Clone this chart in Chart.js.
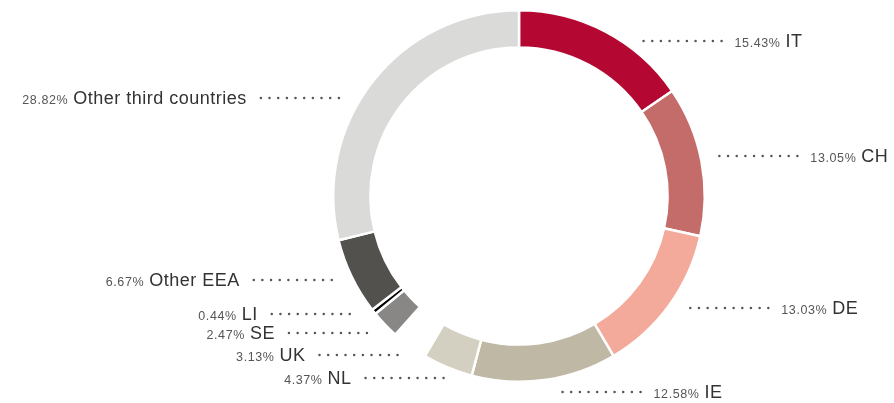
<!DOCTYPE html>
<html>
<head>
<meta charset="utf-8">
<script src="https://cdn.jsdelivr.net/npm/chart.js@4"></script>
<style>
  html, body { margin: 0; padding: 0; background: #fff; }
  #wrap { width: 894px; height: 403px; position: relative; }
</style>
</head>
<body>
<div id="wrap"><canvas id="chart"></canvas></div>
<script>
// Share by country, clockwise from the top
const countries = ['IT', 'CH', 'DE', 'IE', 'NL', 'UK', 'SE', 'LI', 'Other EEA', 'Other third countries'];
const shares = [15.43, 13.05, 13.03, 12.58, 4.37, 3.13, 2.47, 0.44, 6.67, 28.82];
const sliceColors = ['#b40832', '#c46c6a', '#f3aa9b', '#bfb8a4', '#d3cfc1', '#ffffff', '#888786', '#000000', '#53514e', '#dadad9'];

// Leader placement relative to each slice's outer midpoint: [gap, dy]
const leaderNudge = [[38, 9], [18, -5], [21, 3], [18, 12], [4, 11], [12, 9], [18, 8], [24, 2], [20, 3], [34, 17]];

const FONT = '"Liberation Sans", Arial, sans-serif';

const leaderLabels = {
    id: 'leaderLabels',
    afterDraw(chart) {
        const ctx = chart.ctx;
        const arcs = chart.getDatasetMeta(0).data;
        ctx.save();
        arcs.forEach((arc, i) => {
            const mid = (arc.startAngle + arc.endAngle) / 2;
            const px = arc.x + Math.cos(mid) * arc.outerRadius;
            const py = arc.y + Math.sin(mid) * arc.outerRadius;
            const right = px > arc.x;
            const [gap, dy] = leaderNudge[i];
            const y = Math.round(py + dy);
            const dotsLen = 78;
            const x0 = right ? px + gap : px - gap - dotsLen;

            // dotted leader
            ctx.fillStyle = '#555';
            for (let d = 0; d < 10; d++) {
                ctx.beginPath();
                ctx.arc(x0 + d * dotsLen / 9, y, 1.25, 0, Math.PI * 2);
                ctx.fill();
            }

            const pct = shares[i].toFixed(2) + '%';
            ctx.textBaseline = 'alphabetic';
            ctx.textAlign = 'left';
            ctx.font = '12.5px ' + FONT;
            ctx.letterSpacing = '0.6px';
            const pw = ctx.measureText(pct).width + 5;
            ctx.font = '18px ' + FONT;
            ctx.letterSpacing = '0.5px';
            const nw = ctx.measureText(countries[i]).width;
            const tx = right ? x0 + dotsLen + 13 : x0 - 14 - pw - nw;

            ctx.fillStyle = '#555';
            ctx.font = '12.5px ' + FONT;
            ctx.letterSpacing = '0.6px';
            ctx.fillText(pct, tx, y + 6);
            ctx.fillStyle = '#333';
            ctx.font = '18px ' + FONT;
            ctx.letterSpacing = '0.5px';
            ctx.fillText(countries[i], tx + pw, y + 6);
        });
        ctx.restore();
    }
};

new Chart(document.getElementById('chart'), {
    type: 'doughnut',
    data: {
        labels: countries,
        datasets: [{
            data: shares,
            backgroundColor: sliceColors,
            borderColor: '#ffffff',
            borderWidth: 2.5
        }]
    },
    options: {
        responsive: true,
        maintainAspectRatio: false,
        animation: false,
        cutout: '80%',
        layout: { padding: { top: 9, bottom: 20, left: 332, right: 188 } },
        plugins: {
            legend: { display: false },
            tooltip: { enabled: false }
        }
    },
    plugins: [leaderLabels]
});
</script>
</body>
</html>
